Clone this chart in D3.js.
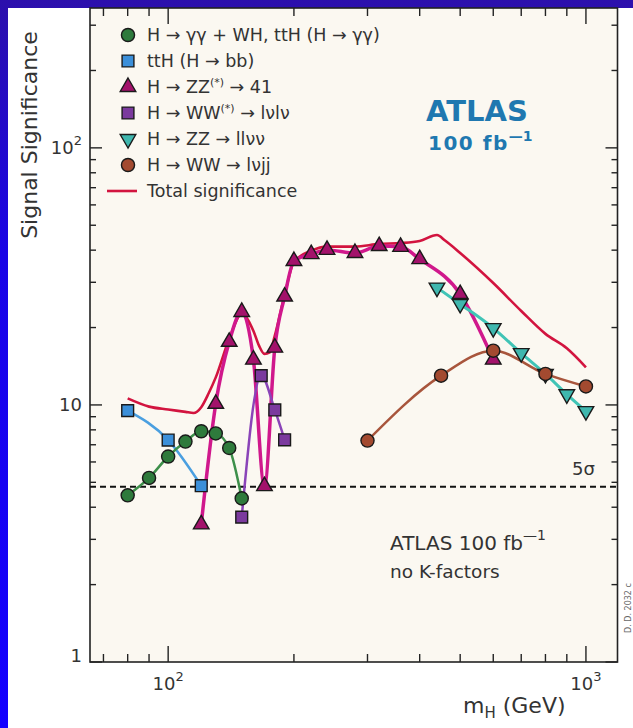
<!DOCTYPE html>
<html>
<head>
<meta charset="utf-8">
<script src="https://cdn.jsdelivr.net/npm/d3@7"></script>
<style>
body { margin: 0; background: #1a06e0; }
svg { display: block; font-family: "DejaVu Sans", sans-serif; }
</style>
</head>
<body>
<div class="canvas"></div>
<script>

var ggMass = [80, 90, 100, 110, 120, 130, 140, 150];
var ggSig = [4.45, 5.2, 6.3, 7.2, 7.9, 7.75, 6.8, 4.33];

var bbMass = [80, 100, 120];
var bbSig = [9.5, 7.3, 4.85];

var zz4lMass = [120, 130, 140, 150, 160, 170, 180, 190, 200, 220, 240, 280, 320, 360, 400, 500, 600];
var zz4lSig = [3.43, 10.1, 17.6, 23.0, 15.0, 4.83, 16.7, 26.4, 36.3, 38.6, 40.1, 39.0, 41.5, 41.2, 36.9, 27.0, 15.0];

var wwllMass = [150, 167, 180, 190];
var wwllSig = [3.66, 13.0, 9.56, 7.32];

var zzllvvMass = [440, 500, 600, 700, 800, 900, 1000];
var zzllvvSig = [28.6, 24.7, 19.9, 15.9, 13.2, 11.0, 9.46];

var wwjjMass = [300, 450, 600, 800, 1000];
var wwjjSig = [7.27, 13.0, 16.25, 13.2, 11.8];

var totalMass = [80, 90, 100, 110, 115, 120, 125, 130, 140, 150, 160, 165, 170, 175, 180, 190, 200, 220, 240, 280, 320, 360, 400, 440, 460, 500, 600, 700, 800, 900, 1000];
var totalSig = [10.6, 9.85, 9.6, 9.4, 9.3, 9.8, 11.1, 12.8, 18.1, 22.6, 19.4, 17.0, 15.8, 16.0, 18.6, 26.8, 36.0, 39.8, 41.3, 41.3, 42.3, 42.6, 43.4, 45.8, 43.6, 39.0, 29.8, 23.2, 18.9, 16.6, 14.0];

var fiveSigma = 4.8;

var xMajor = [100, 1000];
var xMinor = [70, 80, 90, 200, 300, 400, 500, 600, 700, 800, 900];
var yMajor = [1, 10, 100];
var yMinor = [2, 3, 4, 5, 6, 7, 8, 9, 20, 30, 40, 50, 60, 70, 80, 90, 200, 300];
var xLabels = [["10", "2"], ["10", "3"]];
var yLabels = [["1", ""], ["10", ""], ["10", "2"]];


var W = 633, H = 728;
var P = { left: 90, right: 617.5, top: 8, bottom: 662 };

var svg = d3.select(".canvas")
			.append("svg")
			.attr("width", W)
			.attr("height", H);

// blue frame round the white page
var grad = svg.append("defs").append("linearGradient")
			.attr("id", "bluebg")
			.attr("x1", 0).attr("y1", 0).attr("x2", 0).attr("y2", 1);
grad.append("stop").attr("offset", "0%").attr("stop-color", "#2c10ac");
grad.append("stop").attr("offset", "35%").attr("stop-color", "#1a04e6");
grad.append("stop").attr("offset", "100%").attr("stop-color", "#1400ff");

svg.append("rect").attr("width", W).attr("height", H).attr("fill", "url(#bluebg)");
svg.append("rect").attr("x", 8).attr("y", 8).attr("width", W - 8).attr("height", H - 8).attr("fill", "#ffffff");

var x = d3.scaleLog().domain([65, 1190]).range([P.left, P.right]);
var y = d3.scaleLog().domain([1, 350]).range([P.bottom, P.top]);

svg.append("rect")
	.attr("x", P.left).attr("y", P.top)
	.attr("width", P.right - P.left).attr("height", P.bottom - P.top)
	.attr("fill", "#fbf8f1");

// TICKS (all four sides, pointing in)
var ticks = svg.append("g").attr("stroke", "#222").attr("stroke-width", 1.4);

function xTicks(vals, len) {
	vals.forEach(function(v){
		ticks.append("line").attr("x1", x(v)).attr("x2", x(v)).attr("y1", P.bottom).attr("y2", P.bottom - len);
		ticks.append("line").attr("x1", x(v)).attr("x2", x(v)).attr("y1", P.top).attr("y2", P.top + len);
	});
}
function yTicks(vals, len) {
	vals.forEach(function(v){
		ticks.append("line").attr("y1", y(v)).attr("y2", y(v)).attr("x1", P.left).attr("x2", P.left + len);
		ticks.append("line").attr("y1", y(v)).attr("y2", y(v)).attr("x1", P.right).attr("x2", P.right - len);
	});
}
xTicks(xMajor, 16);
xTicks(xMinor, 8);
yTicks(yMajor, 12);
yTicks(yMinor, 6);

svg.append("rect")
	.attr("x", P.left).attr("y", P.top)
	.attr("width", P.right - P.left).attr("height", P.bottom - P.top)
	.attr("fill", "none")
	.attr("stroke", "#222")
	.attr("stroke-width", 1.6);

// TICK LABELS
xMajor.forEach(function(v, i){
	var t = svg.append("text")
		.attr("x", x(v)).attr("y", 690)
		.attr("text-anchor", "middle")
		.attr("font-size", 18)
		.attr("fill", "#333");
	t.append("tspan").text(xLabels[i][0]);
	t.append("tspan").attr("dy", -9).attr("font-size", 13).text(xLabels[i][1]);
});

yMajor.forEach(function(v, i){
	var t = svg.append("text")
		.attr("x", 82).attr("y", Math.min(y(v) + 6, P.bottom))
		.attr("text-anchor", "end")
		.attr("font-size", 18)
		.attr("fill", "#333");
	t.append("tspan").text(yLabels[i][0]);
	if (yLabels[i][1]) t.append("tspan").attr("dy", -9).attr("font-size", 13).text(yLabels[i][1]);
});

// AXIS TITLES
svg.append("text")
	.attr("transform", "translate(37,135) rotate(-90)")
	.attr("text-anchor", "middle")
	.attr("font-size", 22)
	.attr("fill", "#333")
	.text("Signal Significance");

var xt = svg.append("text")
	.attr("x", 463).attr("y", 713)
	.attr("font-size", 22)
	.attr("fill", "#333");
xt.append("tspan").text("m");
xt.append("tspan").attr("dy", 5).attr("font-size", 15).text("H");
xt.append("tspan").attr("dy", -5).text(" (GeV)");

// 5 SIGMA
svg.append("line")
	.attr("x1", P.left).attr("x2", P.right)
	.attr("y1", y(fiveSigma)).attr("y2", y(fiveSigma))
	.attr("stroke", "#111")
	.attr("stroke-width", 2)
	.attr("stroke-dasharray", "6,4");

svg.append("text")
	.attr("x", 572).attr("y", 475)
	.attr("font-size", 18)
	.attr("fill", "#333")
	.text("5σ");

// SERIES
var series = [
	{ mass: bbMass, sig: bbSig, line: "#4a9fe0", fill: "#3b8fd9", shape: "square", width: 2.5 },
	{ mass: ggMass, sig: ggSig, line: "#3d8f4a", fill: "#2e7a3c", shape: "circle", width: 2.5 },
	{ mass: zz4lMass, sig: zz4lSig, line: "#d0188c", fill: "#a3126b", shape: "triangle", width: 3.5 },
	{ mass: wwllMass, sig: wwllSig, line: "#8a44b8", fill: "#7b3a9e", shape: "square", width: 2.5 },
	{ mass: zzllvvMass, sig: zzllvvSig, line: "#40c4b6", fill: "#3fb7ae", shape: "down", width: 3 },
	{ mass: wwjjMass, sig: wwjjSig, line: "#a8553c", fill: "#a34a30", shape: "circle", width: 2.5 }
];

function pts(mass, sig) {
	return mass.map(function(m, i){ return { m: m, s: sig[i] }; });
}

var line = d3.line()
	.x(function(d){ return x(d.m); })
	.y(function(d){ return y(d.s); })
	.curve(d3.curveMonotoneX);

var symbols = {
	circle: d3.symbol().type(d3.symbolCircle).size(135),
	square: d3.symbol().type(d3.symbolSquare).size(140),
	triangle: d3.symbol().type(d3.symbolTriangle).size(105),
	down: d3.symbol().type(d3.symbolTriangle).size(105)
};

// total significance goes under the channels
svg.append("path")
	.attr("d", line(pts(totalMass, totalSig)))
	.attr("fill", "none")
	.attr("stroke", "#d2143f")
	.attr("stroke-width", 2.6);

series.forEach(function(s){
	svg.append("path")
		.attr("d", line(pts(s.mass, s.sig)))
		.attr("fill", "none")
		.attr("stroke", s.line)
		.attr("stroke-width", s.width);
});

series.forEach(function(s){
	svg.selectAll(null)
		.data(pts(s.mass, s.sig))
		.enter()
		.append("path")
		.attr("d", symbols[s.shape])
		.attr("transform", function(d){
			return "translate(" + x(d.m) + "," + y(d.s) + ")" + (s.shape == "down" ? " rotate(180)" : "");
		})
		.attr("fill", s.fill)
		.attr("stroke", "#1a1a1a")
		.attr("stroke-width", 1.4);
});

// LEGEND
var legendText = [
	[["H → γγ + WH, ttH (H → γγ)"]],
	[["ttH (H → bb)"]],
	[["H → ZZ"], ["(*)", 1], [" → 41"]],
	[["H → WW"], ["(*)", 1], [" → lνlν"]],
	[["H → ZZ → llνν"]],
	[["H → WW → lνjj"]],
	[["Total significance"]]
];
var legendShapes = [
	[series[1].fill, "circle"],
	[series[0].fill, "square"],
	[series[2].fill, "triangle"],
	[series[3].fill, "square"],
	[series[4].fill, "down"],
	[series[5].fill, "circle"],
	["#d2143f", "line"]
];

legendText.forEach(function(parts, i){
	var cy = 35 + i * 26;
	var sh = legendShapes[i];
	if (sh[1] == "line") {
		svg.append("line")
			.attr("x1", 107).attr("x2", 137)
			.attr("y1", cy).attr("y2", cy)
			.attr("stroke", sh[0])
			.attr("stroke-width", 2.6);
	} else {
		svg.append("path")
			.attr("d", symbols[sh[1]])
			.attr("transform", "translate(128," + cy + ")" + (sh[1] == "down" ? " rotate(180)" : ""))
			.attr("fill", sh[0])
			.attr("stroke", "#1a1a1a")
			.attr("stroke-width", 1.4);
	}
	var t = svg.append("text")
		.attr("x", 147).attr("y", cy + 6)
		.attr("font-size", 17.5)
		.attr("fill", "#333");
	var up = false;
	parts.forEach(function(p){
		var ts = t.append("tspan").text(p[0]);
		if (p[1]) { ts.attr("dy", -7).attr("font-size", 11); up = true; }
		else if (up) { ts.attr("dy", 7); up = false; }
	});
});

// ATLAS LABELS
svg.append("text")
	.attr("x", 477).attr("y", 121)
	.attr("text-anchor", "middle")
	.attr("font-size", 29)
	.attr("font-weight", "bold")
	.attr("fill", "#1f78b0")
	.text("ATLAS");

var lum = svg.append("text")
	.attr("x", 428).attr("y", 150)
	.attr("font-size", 20)
	.attr("font-weight", "bold")
	.attr("letter-spacing", 1.5)
	.attr("fill", "#1f78b0");
lum.append("tspan").text("100 fb");
lum.append("tspan").attr("dy", -9).attr("font-size", 14).attr("letter-spacing", 0).text("—1");

var lum2 = svg.append("text")
	.attr("x", 390).attr("y", 550)
	.attr("font-size", 20)
	.attr("fill", "#333");
lum2.append("tspan").text("ATLAS 100 fb");
lum2.append("tspan").attr("dy", -10).attr("font-size", 14).text("—1");

svg.append("text")
	.attr("x", 390).attr("y", 578)
	.attr("font-size", 18.5)
	.attr("fill", "#333")
	.text("no K-factors");

svg.append("text")
	.attr("transform", "translate(631,608) rotate(-90)")
	.attr("text-anchor", "middle")
	.attr("font-size", 8)
	.attr("fill", "#666")
	.text("D. D. 2032 c");

</script>
</body>
</html>
